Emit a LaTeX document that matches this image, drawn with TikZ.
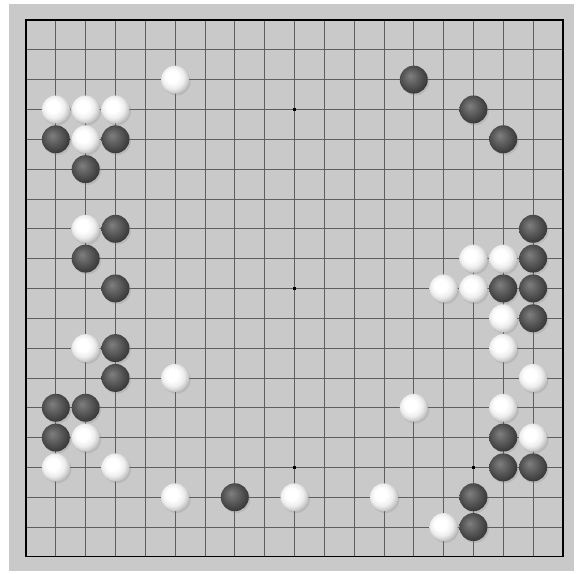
\documentclass[tikz,border=0pt]{standalone}
\usepackage{tikz}
\usetikzlibrary{shadows}
\definecolor{BoardGrey}{HTML}{C9C9C9}
\definecolor{LineGrey}{HTML}{5E5E5E}
\pgfdeclareradialshading{stoneW}{\pgfqpoint{-7bp}{7bp}}{%
  color(0bp)=(white); color(11bp)=(white); color(20bp)=(black!7);
  color(27bp)=(black!22); color(50bp)=(black!22)}
\pgfdeclareradialshading{stoneB}{\pgfqpoint{-7bp}{7bp}}{%
  color(0bp)=(black!50); color(6bp)=(black!56); color(18bp)=(black!68);
  color(28bp)=(black!78); color(50bp)=(black!78)}

\begin{document}
\begin{tikzpicture}[
    x=0.8cm, y=-0.8cm,
    gridline/.style={LineGrey, line width=0.6pt},
    stone/.style={
      circle, inner sep=0pt, minimum size=0.75cm,
      drop shadow={shadow xshift=0.04cm, shadow yshift=-0.05cm, opacity=0.22}
    },
    blackstone/.style={stone, shading=stoneB},
    whitestone/.style={stone, shading=stoneW},
    hoshi/.style={rectangle, fill=black, inner sep=0pt, minimum size=0.08cm}
  ]
    % page and board
    \useasboundingbox[fill=white] (-0.872,-0.670) rectangle (18.64,18.57);
    \fill[BoardGrey] (-0.57,-0.54) rectangle (18.37,18.47);

    % grid
    \foreach \i in {1,...,17} {
      \draw[gridline] (\i,0) -- (\i,18);
      \draw[gridline] (0,\i) -- (18,\i);
    }
    \draw[black, line width=0.9pt] (0,0) rectangle (18,18);

    % star points
    \foreach \c/\r [count=\n] in {3/3,9/3,15/3,3/9,9/9,15/9,3/15,9/15,15/15}
      \node[hoshi] (star\n) at (\c,\r) {};

    % black stones
    \foreach \c/\r [count=\n] in {13/2,15/3,1/4,3/4,16/4,2/5,3/7,17/7,2/8,17/8,
        3/9,16/9,17/9,17/10,3/11,3/12,1/13,2/13,1/14,16/14,16/15,17/15,
        7/16,15/16,15/17}
      \node[blackstone] (b\n) at (\c,\r) {};

    % white stones
    \foreach \c/\r [count=\n] in {5/2,1/3,2/3,3/3,2/4,2/7,15/8,16/8,14/9,15/9,
        16/10,2/11,16/11,5/12,17/12,13/13,16/13,2/14,17/14,1/15,3/15,
        5/16,9/16,12/16,14/17}
      \node[whitestone] (w\n) at (\c,\r) {};
  \end{tikzpicture}
\end{document}
